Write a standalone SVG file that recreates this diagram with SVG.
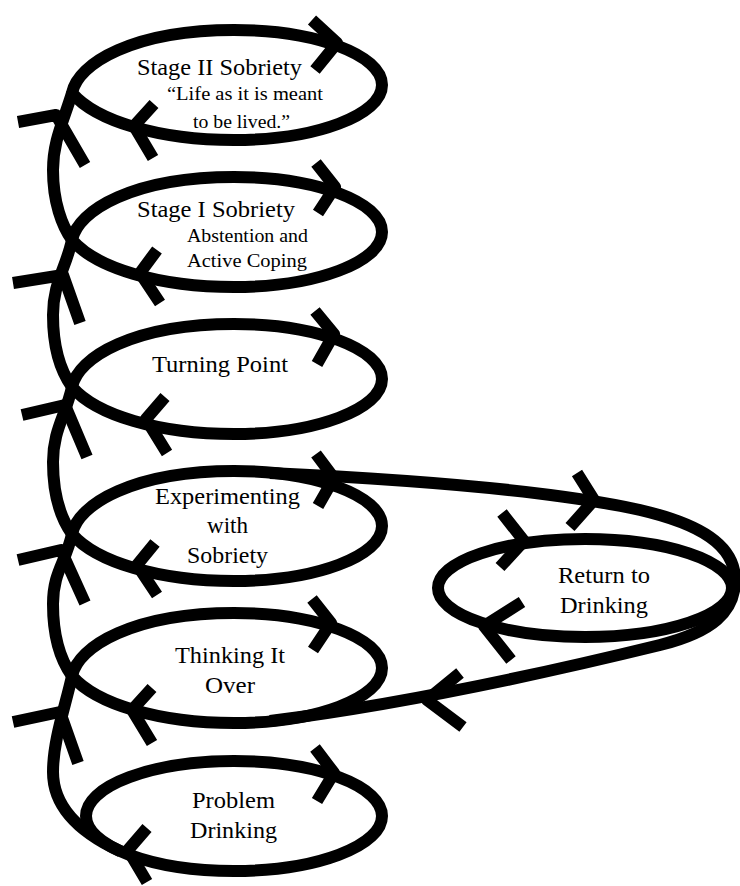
<svg xmlns="http://www.w3.org/2000/svg" width="740" height="886" viewBox="0 0 740 886">
<style>
.ln{fill:none;stroke:#000;stroke-width:12;stroke-linejoin:round;stroke-linecap:butt}
.t{font-family:"Liberation Serif","Times New Roman",Times,serif;font-size:23px;font-weight:400;fill:#000;text-anchor:middle}
.s{font-size:19px}
</style>
<defs>
<path id="loop" d="M -162 8 C -156 -22 -100 -55 0 -55 C 82 -55 148 -30 148 0 C 148 30 82 55 0 55 C -75 55 -138 36 -162 8 Z"/>
</defs>
<rect width="740" height="886" fill="#fff"/>

<g id="connectors" class="ln">
  <path d="M 120.6 851.4 C 85 835 53 810 53 772 C 53 740 66 704 72 676"/>
  <path d="M 72 676 C 62 662 53 638 53 604 C 53 572 66 562 72 534"/>
  <path d="M 72 534 C 62 520 53 496 53 462 C 53 430 66 415 72 387"/>
  <path d="M 72 387 C 62 373 53 349 53 315 C 53 283 66 268 72 240"/>
  <path d="M 72 240 C 62 226 53 202 53 170 C 53 140 64 120 72 93"/>
  <path d="M 270 473 C 420 480 560 492 640 510 C 700 524 735 545 735 580 C 735 612 712 632 660 645 C 566 668 420 702 270 721"/>
  <path d="M 18 122 L 56 115 L 85 165"/>
  <path d="M 13 283 L 63 275 L 80 323"/>
  <path d="M 22 415 L 65 405 L 87 457"/>
  <path d="M 18 560 L 61 550 L 85 603"/>
  <path d="M 13 722 L 60 712 L 78 763"/>
  <path d="M 577 473 L 594 500 L 570 527"/>
  <path d="M 460 673 L 427 700 L 463 727"/>
</g>

<g id="stage2">
  <use href="#loop" x="234" y="85" class="ln"/>
  <path class="ln" d="M 312 20 L 337 43 L 315 70"/>
  <path class="ln" d="M 154 104 L 134 126 L 153 158"/>
  <text class="t" x="219.5" y="75" textLength="165" lengthAdjust="spacingAndGlyphs">Stage II Sobriety</text>
  <text class="t s" x="245" y="100" textLength="156" lengthAdjust="spacingAndGlyphs">“Life as it is meant</text>
  <text class="t s" x="241.5" y="128" textLength="97" lengthAdjust="spacingAndGlyphs">to be lived.”</text>
</g>

<g id="stage1">
  <use href="#loop" x="234" y="232" class="ln"/>
  <path class="ln" d="M 316 163 L 335 187 L 318 213"/>
  <path class="ln" d="M 157 250 L 140 273 L 160 303"/>
  <text class="t" x="216" y="217" textLength="158" lengthAdjust="spacingAndGlyphs">Stage I Sobriety</text>
  <text class="t s" x="247.5" y="242" textLength="121" lengthAdjust="spacingAndGlyphs">Abstention and</text>
  <text class="t s" x="247" y="267" textLength="120" lengthAdjust="spacingAndGlyphs">Active Coping</text>
</g>

<g id="turning">
  <use href="#loop" x="234" y="379" class="ln"/>
  <path class="ln" d="M 315 311 L 334 334 L 317 364"/>
  <path class="ln" d="M 165 397 L 146 419 L 167 453"/>
  <text class="t" x="220" y="372" textLength="136" lengthAdjust="spacingAndGlyphs">Turning Point</text>
</g>

<g id="experimenting">
  <use href="#loop" x="234" y="526" class="ln"/>
  <path class="ln" d="M 316 454 L 334 478 L 318 506"/>
  <path class="ln" d="M 155 543 L 137 565 L 157 595"/>
  <text class="t" x="227.5" y="504" textLength="145" lengthAdjust="spacingAndGlyphs">Experimenting</text>
  <text class="t" x="227.5" y="533" textLength="41" lengthAdjust="spacingAndGlyphs">with</text>
  <text class="t" x="227.5" y="563" textLength="81" lengthAdjust="spacingAndGlyphs">Sobriety</text>
</g>

<g id="thinking">
  <use href="#loop" x="234" y="668" class="ln"/>
  <path class="ln" d="M 312 599 L 331 623 L 313 650"/>
  <path class="ln" d="M 152 688 L 132 710 L 152 743"/>
  <text class="t" x="230" y="663" textLength="110" lengthAdjust="spacingAndGlyphs">Thinking It</text>
  <text class="t" x="230" y="693" textLength="50" lengthAdjust="spacingAndGlyphs">Over</text>
</g>

<g id="problem">
  <ellipse class="ln" cx="234" cy="816" rx="148" ry="55"/>
  <path class="ln" d="M 315 748 L 334 773 L 317 801"/>
  <path class="ln" d="M 147 828 L 128 850 L 147 882"/>
  <text class="t" x="233.5" y="808" textLength="83" lengthAdjust="spacingAndGlyphs">Problem</text>
  <text class="t" x="233.5" y="838" textLength="87" lengthAdjust="spacingAndGlyphs">Drinking</text>
</g>

<g id="return">
  <ellipse class="ln" cx="585" cy="588" rx="147" ry="49"/>
  <path class="ln" d="M 502 513 L 524 541 L 500 567"/>
  <path class="ln" d="M 522 602 L 484 626 L 511 660"/>
  <text class="t" x="604" y="583" textLength="92" lengthAdjust="spacingAndGlyphs">Return to</text>
  <text class="t" x="604" y="613" textLength="88" lengthAdjust="spacingAndGlyphs">Drinking</text>
</g>
</svg>
